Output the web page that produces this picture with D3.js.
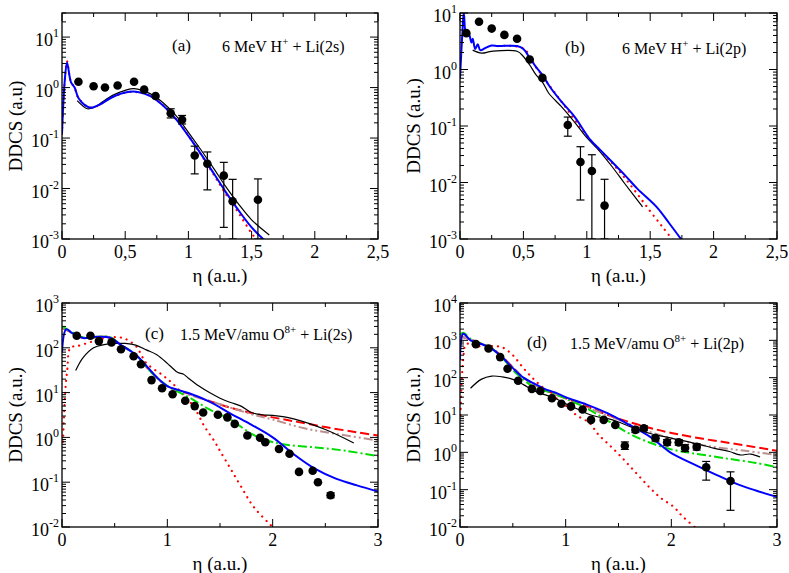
<!DOCTYPE html>
<html><head><meta charset="utf-8">
<script src="https://cdn.jsdelivr.net/npm/d3@7"></script>
<style>body{margin:0;background:#fff}</style>
</head><body><svg width="789" height="573"></svg>
<script>
// ---- data: [eta, DDCS] pairs ----
// (a) 6 MeV H+ + Li(2s)
const aExp = [[0.13,1.3],[0.25,1.06],[0.34,1.0],[0.44,1.1],[0.57,1.3],[0.65,0.91],[0.74,0.68],[0.86,0.31],[0.95,0.23],[1.05,0.045],[1.15,0.031],[1.28,0.018],[1.35,0.0056],[1.55,0.006]];
const aErr = [[0.86,0.25,0.38],[0.95,0.19,0.28],[1.05,0.0195,0.069],[1.15,0.0094,0.053],[1.28,0.0017,0.033],[1.35,0.001,0.0152],[1.55,0.001,0.0155]];
const aBlue = [[0,0.12],[0.02,1.2],[0.04,3.1],[0.07,1.3],[0.1,1.0],[0.13,0.62],[0.18,0.45],[0.23,0.4],[0.3,0.46],[0.4,0.65],[0.5,0.8],[0.6,0.82],[0.7,0.68],[0.8,0.44],[0.9,0.24],[1.0,0.11],[1.1,0.048],[1.2,0.02],[1.3,0.0082],[1.4,0.0036],[1.5,0.0017],[1.6,0.00095]];
const aBlack = [[0.12,0.55],[0.2,0.38],[0.25,0.4],[0.3,0.48],[0.4,0.7],[0.5,0.88],[0.57,0.95],[0.7,0.75],[0.8,0.5],[0.9,0.28],[1.0,0.13],[1.1,0.058],[1.2,0.025],[1.3,0.0105],[1.4,0.0048],[1.5,0.0024],[1.64,0.0012]];
const aRedDot = [[0,0.12],[0.02,1.2],[0.04,3.3],[0.07,1.3],[0.1,1.0],[0.13,0.62],[0.23,0.4],[0.4,0.65],[0.55,0.82],[0.7,0.68],[0.9,0.24],[1.1,0.047],[1.3,0.0075],[1.4,0.0032],[1.5,0.0013],[1.55,0.0009]];
// (b) 6 MeV H+ + Li(2p)
const bExp = [[0.05,4.4],[0.15,7.0],[0.25,5.3],[0.35,4.1],[0.45,3.5],[0.55,1.5],[0.65,0.71],[0.85,0.104],[0.95,0.023],[1.04,0.016],[1.14,0.0039]];
const bErr = [[0.85,0.066,0.144],[0.95,0.0049,0.043],[1.04,0.001,0.031],[1.14,0.001,0.0114]];
const bBlue = [[0,0.7],[0.02,5],[0.03,10],[0.05,4],[0.07,4.2],[0.09,3],[0.1,3.5],[0.12,2.3],[0.14,2.8],[0.16,2.2],[0.2,2.4],[0.25,2.65],[0.3,2.6],[0.45,2.6],[0.5,2.3],[0.55,1.6],[0.6,1.1],[0.65,0.8],[0.71,0.49],[0.8,0.27],[0.9,0.15],[1.03,0.056],[1.1,0.039],[1.2,0.023],[1.3,0.0135],[1.4,0.0077],[1.55,0.0037],[1.65,0.0019],[1.75,0.00095]];
const bBlack = [[0.1,2.2],[0.17,1.95],[0.25,2.1],[0.45,2.1],[0.5,1.7],[0.55,1.2],[0.6,0.8],[0.65,0.6],[0.7,0.38],[0.8,0.22],[0.9,0.12],[1.0,0.062],[1.1,0.036],[1.2,0.019],[1.3,0.0095],[1.44,0.0037]];
const bRedDot = [[0.3,2.6],[0.5,2.35],[0.6,1.1],[0.8,0.27],[1.03,0.056],[1.2,0.022],[1.3,0.012],[1.4,0.0062],[1.5,0.0031],[1.6,0.0016],[1.68,0.00095]];
// (c) 1.5 MeV/amu O8+ + Li(2s)
const cExp = [[0.14,186],[0.27,186],[0.35,141],[0.47,132],[0.56,93],[0.68,65],[0.75,43],[0.85,19],[0.95,12.5],[1.05,9.2],[1.17,6.6],[1.26,5.0],[1.34,3.6],[1.48,3.2],[1.57,2.8],[1.64,2.0],[1.76,1.1],[1.88,0.98],[1.93,0.78],[2.06,0.55],[2.16,0.43],[2.25,0.17],[2.38,0.18],[2.43,0.1],[2.55,0.051]];
const cErr = [[2.55,0.045,0.058]];
const cBlue = [[0,80],[0.04,260],[0.1,210],[0.2,165],[0.3,175],[0.45,170],[0.55,120],[0.7,70],[0.8,40],[0.9,22],[1.0,14],[1.1,11.5],[1.2,9.8],[1.4,6.3],[1.6,3.4],[1.8,1.9],[2.0,1.0],[2.2,0.42],[2.4,0.2],[2.6,0.12],[2.8,0.085],[3,0.062]];
const cGreen = [[0,300],[0.1,220],[0.2,170],[0.45,175],[0.55,120],[0.7,70],[0.85,28],[1.0,14],[1.2,8],[1.4,4.2],[1.6,2.5],[1.8,1.2],[1.95,0.85],[2.1,0.7],[2.4,0.6],[2.7,0.5],[3,0.38]];
const cRedDash = [[0,280],[0.1,215],[0.2,168],[0.45,172],[0.55,120],[0.7,70],[0.85,28],[1.0,14],[1.2,9.5],[1.4,6.5],[1.6,4.6],[1.8,3.5],[2.0,2.8],[2.2,2.3],[2.5,1.7],[2.8,1.3],[3,1.1]];
const cBrown = [[0,290],[0.1,215],[0.2,168],[0.45,172],[0.55,120],[0.7,70],[0.85,28],[1.0,14],[1.2,9],[1.5,5.5],[1.8,3.3],[2.0,2.5],[2.3,1.6],[2.6,1.2],[3,0.85]];
const cBlack = [[0.13,31],[0.2,60],[0.3,100],[0.4,118],[0.5,125],[0.6,125],[0.7,115],[0.8,90],[0.9,70],[1.0,45],[1.05,35],[1.1,28],[1.15,26],[1.2,21],[1.3,14],[1.4,10],[1.5,7.5],[1.6,6],[1.7,5],[1.8,3.6],[1.9,3.2],[2.0,3.1],[2.2,2.6],[2.5,1.5],[2.77,0.75]];
const cRedDot = [[0.01,0.8],[0.03,10],[0.05,32],[0.08,100],[0.15,110],[0.3,140],[0.45,170],[0.58,165],[0.7,110],[0.8,46],[0.95,25],[1.05,16],[1.15,9],[1.25,4.9],[1.35,1.8],[1.45,0.8],[1.5,0.5],[1.6,0.2],[1.7,0.08],[1.82,0.028],[2.0,0.01]];
// (d) 1.5 MeV/amu O8+ + Li(2p)
const dExp = [[0.15,790],[0.27,605],[0.38,355],[0.45,174],[0.55,83],[0.68,50],[0.76,44],[0.87,28],[0.96,20],[1.05,17],[1.16,14],[1.24,7.4],[1.36,7.4],[1.47,5.4],[1.56,1.5],[1.66,4],[1.74,4.4],[1.85,2.4],[1.96,1.85],[2.07,1.85],[2.13,1.3],[2.24,1.4],[2.33,0.4],[2.56,0.17]];
const dErr = [[1.56,1.2,1.9],[1.66,3.4,4.7],[1.74,3.8,5.1],[1.85,2.0,2.8],[1.96,1.55,2.2],[2.07,1.55,2.2],[2.13,1.05,1.6],[2.24,1.15,1.7],[2.33,0.18,0.57],[2.56,0.028,0.3]];
const dBlue = [[0,300],[0.03,1500],[0.1,1000],[0.2,800],[0.3,600],[0.4,350],[0.5,180],[0.6,100],[0.7,70],[0.8,50],[0.9,40],[1.0,30],[1.2,19],[1.4,11],[1.6,5.5],[1.8,2.6],[2.0,0.95],[2.2,0.5],[2.4,0.27],[2.6,0.15],[2.8,0.095],[3,0.064]];
const dGreen = [[0,1400],[0.03,1600],[0.1,1100],[0.2,820],[0.3,600],[0.4,340],[0.5,160],[0.6,90],[0.7,55],[0.8,45],[1.0,28],[1.2,15],[1.4,7],[1.6,3.2],[1.8,1.8],[2.0,1.2],[2.2,0.95],[2.5,0.7],[2.8,0.52],[3,0.4]];
const dRedDash = [[0,1300],[0.1,1050],[0.2,820],[0.3,620],[0.4,360],[0.5,190],[0.6,100],[0.8,48],[1.0,28],[1.2,17],[1.4,10],[1.6,6.5],[1.8,4.5],[2.0,3.3],[2.3,2.3],[2.6,1.7],[3,1.1]];
const dBrown = [[0,1300],[0.1,1050],[0.2,820],[0.3,620],[0.4,360],[0.5,190],[0.6,100],[0.8,48],[1.0,27],[1.2,16],[1.5,7.5],[1.8,3.5],[2.1,2.0],[2.4,1.4],[2.7,1.1],[3,0.85]];
const dBlack = [[0.1,52],[0.2,90],[0.3,110],[0.4,105],[0.5,90],[0.6,65],[0.7,45],[0.8,35],[0.9,28],[1.0,20],[1.1,15],[1.2,11],[1.3,9],[1.4,8],[1.5,6.5],[1.6,5],[1.8,3.2],[2.0,2.4],[2.2,1.8],[2.4,1.3],[2.55,1.05],[2.65,0.85],[2.75,0.9],[2.84,0.75]];
const dRedDot = [[0.005,10],[0.03,300],[0.06,800],[0.15,700],[0.3,700],[0.4,650],[0.5,400],[0.6,180],[0.7,90],[0.8,50],[0.9,30],[1.0,18],[1.1,10],[1.23,6],[1.3,3.2],[1.4,1.7],[1.5,0.9],[1.6,0.45],[1.7,0.22],[1.8,0.11],[1.9,0.06],[2.02,0.035],[2.1,0.02],[2.22,0.01]];

const svg = d3.select('svg');
const FONT = 'Liberation Serif, DejaVu Serif';

const STYLES = {
  blue:    { stroke: '#0000ff', width: 2,   dash: null },
  black:   { stroke: '#000',    width: 1.2, dash: null },
  redDot:  { stroke: '#ff0000', width: 2.2, dash: '0.1,6', cap: 'round' },
  redDash: { stroke: '#ff0000', width: 2,   dash: '9,4' },
  green:   { stroke: '#00dd00', width: 2,   dash: '9,3,2,3' },
  brown:   { stroke: '#bc8f8f', width: 2,   dash: '9,3,2,3,2,3' }
};

function txt(sel, size) {
  return sel.append('text').style('font-family', FONT).attr('font-size', size);
}

function drawPanel(p) {
  const x = d3.scaleLinear().domain(p.xDom).range([p.x0, p.x1]);
  const y = d3.scaleLog().domain(p.yDom).range([p.y1, p.y0]);
  const g = svg.append('g');
  const id = 'clip' + p.name;
  svg.append('clipPath').attr('id', id).append('rect')
    .attr('x', p.x0).attr('y', p.y0).attr('width', p.x1 - p.x0).attr('height', p.y1 - p.y0);

  const line = d3.line().x(d => x(d[0])).y(d => y(d[1])).curve(d3.curveCatmullRom);
  const lines = g.append('g').attr('clip-path', `url(#${id})`);
  p.series.forEach(([data, key]) => {
    const s = STYLES[key];
    lines.append('path').datum(data).attr('d', line)
      .attr('fill', 'none').attr('stroke', s.stroke).attr('stroke-width', s.width)
      .attr('stroke-dasharray', s.dash).attr('stroke-linecap', s.cap || 'butt');
  });

  // error bars + points
  const eb = lines.append('g').attr('stroke', '#000').attr('stroke-width', 1.2);
  p.err.forEach(([ex, lo, hi]) => {
    const cx = x(ex);
    eb.append('line').attr('x1', cx).attr('x2', cx).attr('y1', y(lo)).attr('y2', y(hi));
    [lo, hi].forEach(v => eb.append('line').attr('x1', cx - 4).attr('x2', cx + 4).attr('y1', y(v)).attr('y2', y(v)));
  });
  lines.append('g').selectAll('circle').data(p.exp).join('circle')
    .attr('cx', d => x(d[0])).attr('cy', d => y(d[1])).attr('r', 4.3).attr('fill', '#000');

  // frame
  g.append('rect').attr('x', p.x0).attr('y', p.y0).attr('width', p.x1 - p.x0).attr('height', p.y1 - p.y0)
    .attr('fill', 'none').attr('stroke', '#000').attr('stroke-width', 1.3);

  // ticks (inward, all four sides)
  const tk = g.append('g').attr('stroke', '#000').attr('stroke-width', 1);
  const xt = d3.range(p.xDom[0], p.xDom[1] + 1e-9, p.xStep / 2);
  xt.forEach((v, i) => {
    const L = i % 2 === 0 ? 8 : 4, px = x(v);
    tk.append('line').attr('x1', px).attr('x2', px).attr('y1', p.y1).attr('y2', p.y1 - L);
    tk.append('line').attr('x1', px).attr('x2', px).attr('y1', p.y0).attr('y2', p.y0 + L);
  });
  const e0 = Math.round(Math.log10(p.yDom[0])), e1 = Math.ceil(Math.log10(p.yDom[1]));
  for (let e = e0; e <= e1; e++) {
    for (let m = 1; m <= 9; m++) {
      const v = m * Math.pow(10, e);
      if (v < p.yDom[0] * 0.999 || v > p.yDom[1] * 1.001) continue;
      const L = m === 1 ? 8 : 4, py = y(v);
      tk.append('line').attr('x1', p.x0).attr('x2', p.x0 + L).attr('y1', py).attr('y2', py);
      tk.append('line').attr('x1', p.x1).attr('x2', p.x1 - L).attr('y1', py).attr('y2', py);
    }
  }
  // x tick labels
  p.xLabels.forEach((t, i) => {
    txt(g, 18).attr('x', x(p.xDom[0] + i * p.xStep)).attr('y', p.y1 + 19)
      .attr('text-anchor', 'middle').text(t);
  });
  // y tick labels 10^e
  for (let e = e0; e <= e1; e++) {
    const v = Math.pow(10, e);
    if (v < p.yDom[0] * 0.999 || v > p.yDom[1] * 1.001) continue;
    const t = txt(g, 18).attr('x', p.x0 - 3).attr('y', y(v) + 9).attr('text-anchor', 'end');
    t.append('tspan').text('10');
    t.append('tspan').attr('dy', -9).attr('font-size', 12).text(e);
  }
  txt(g, 19).attr('x', (p.x0 + p.x1) / 2).attr('y', p.y1 + 43)
    .attr('text-anchor', 'middle').text('η (a.u.)');
  txt(g, 19).attr('transform', `translate(${p.x0 - 40},${(p.y0 + p.y1) / 2}) rotate(-90)`)
    .attr('text-anchor', 'middle').text(p.yTitle);

  // annotations
  txt(g, 17).attr('x', p.tagX).attr('y', p.tagY).text(p.tag);
  const a = txt(g, 16).attr('x', p.annX).attr('y', p.tagY + 1);
  a.append('tspan').text(p.ann[0]);
  a.append('tspan').attr('dy', -7).attr('font-size', 11).text(p.ann[1]);
  a.append('tspan').attr('dy', 7).text(p.ann[2]);
}

const xLabA = ['0', '0,5', '1', '1,5', '2', '2,5'];
const xLabC = ['0', '1', '2', '3'];

drawPanel({ name: 'a', x0: 62, x1: 378, y0: 13, y1: 239, xDom: [0, 2.5], xStep: 0.5, yDom: [1e-3, 30],
  xLabels: xLabA, yTitle: 'DDCS (a.u)', tag: '(a)', tagX: 172, tagY: 51, annX: 222, ann: ['6 MeV H', '+', ' + Li(2s)'],
  exp: aExp, err: aErr, series: [[aRedDot, 'redDot'], [aBlack, 'black'], [aBlue, 'blue']] });
drawPanel({ name: 'b', x0: 460, x1: 777, y0: 13, y1: 239, xDom: [0, 2.5], xStep: 0.5, yDom: [1e-3, 10],
  xLabels: xLabA, yTitle: 'DDCS (a.u.)', tag: '(b)', tagX: 565, tagY: 53, annX: 622, ann: ['6 MeV H', '+', ' + Li(2p)'],
  exp: bExp, err: bErr, series: [[bRedDot, 'redDot'], [bBlack, 'black'], [bBlue, 'blue']] });
drawPanel({ name: 'c', x0: 62, x1: 378, y0: 303, y1: 527, xDom: [0, 3], xStep: 1, yDom: [1e-2, 1e3],
  xLabels: xLabC, yTitle: 'DDCS (a.u.)', tag: '(c)', tagX: 145, tagY: 339, annX: 180, ann: ['1.5 MeV/amu O', '8+', ' + Li(2s)'],
  exp: cExp, err: cErr, series: [[cRedDot, 'redDot'], [cRedDash, 'redDash'], [cBrown, 'brown'], [cGreen, 'green'], [cBlack, 'black'], [cBlue, 'blue']] });
drawPanel({ name: 'd', x0: 460, x1: 777, y0: 303, y1: 527, xDom: [0, 3], xStep: 1, yDom: [1e-2, 1e4],
  xLabels: xLabC, yTitle: 'DDCS (a.u.)', tag: '(d)', tagX: 527, tagY: 348, annX: 570, ann: ['1.5 MeV/amu O', '8+', ' + Li(2p)'],
  exp: dExp, err: dErr, series: [[dRedDot, 'redDot'], [dRedDash, 'redDash'], [dBrown, 'brown'], [dGreen, 'green'], [dBlack, 'black'], [dBlue, 'blue']] });
</script></body></html>
